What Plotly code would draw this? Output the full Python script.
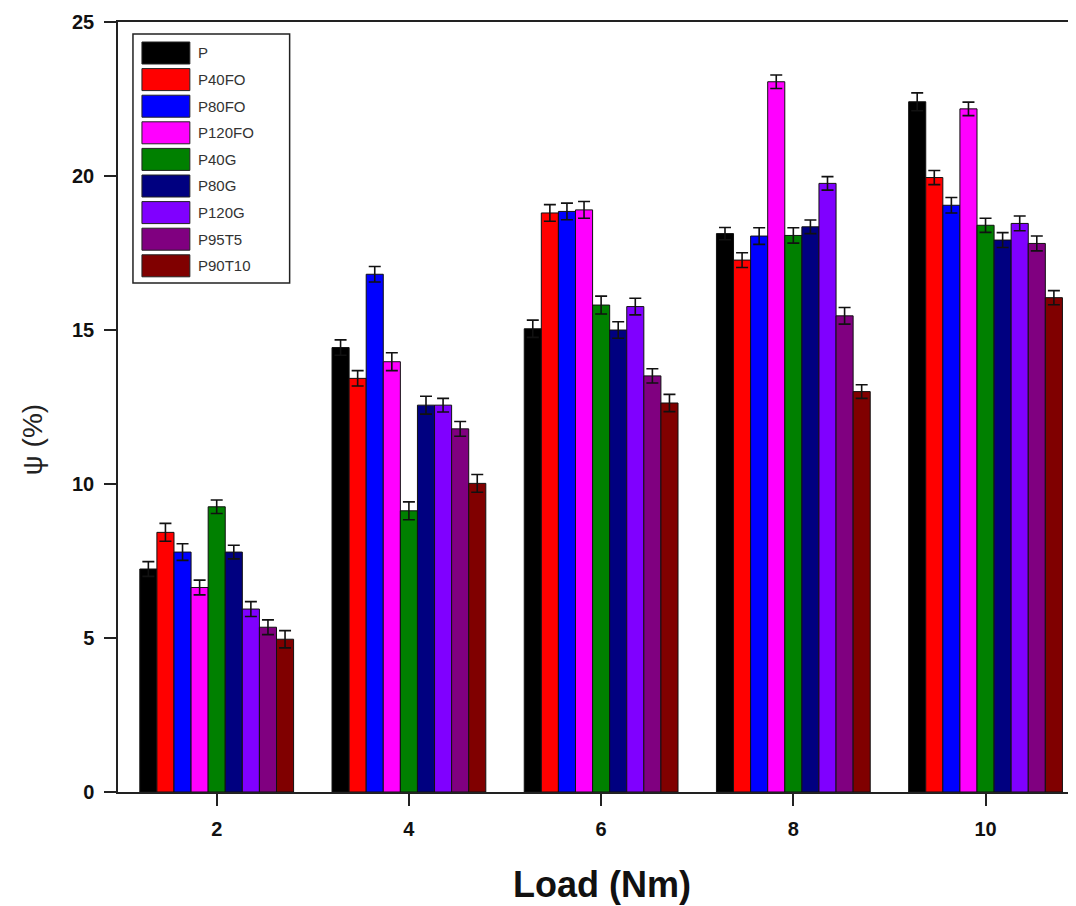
import plotly.graph_objects as go

loads = [2, 4, 6, 8, 10]
series_names = ["P", "P40FO", "P80FO", "P120FO", "P40G", "P80G", "P120G", "P95T5", "P90T10"]
colors = ["#000000", "#FF0000", "#0000FF", "#FF00FF", "#008000", "#000080", "#8000FF", "#800080", "#800000"]

P      = [7.24, 14.43, 15.04, 18.13, 22.41]
P40FO  = [8.43, 13.43, 18.80, 17.27, 19.95]
P80FO  = [7.79, 16.81, 18.85, 18.05, 19.05]
P120FO = [6.64, 13.97, 18.90, 23.06, 22.18]
P40G   = [9.26, 9.13, 15.81, 18.07, 18.40]
P80G   = [7.79, 12.56, 15.00, 18.35, 17.92]
P120G  = [5.94, 12.56, 15.76, 19.76, 18.46]
P95T5  = [5.35, 11.79, 13.51, 15.46, 17.81]
P90T10 = [4.96, 10.02, 12.63, 13.00, 16.05]

err_P      = [0.24, 0.25, 0.28, 0.20, 0.29]
err_P40FO  = [0.29, 0.25, 0.27, 0.24, 0.23]
err_P80FO  = [0.27, 0.25, 0.27, 0.27, 0.25]
err_P120FO = [0.24, 0.29, 0.27, 0.22, 0.22]
err_P40G   = [0.22, 0.29, 0.29, 0.25, 0.23]
err_P80G   = [0.22, 0.29, 0.27, 0.22, 0.24]
err_P120G  = [0.24, 0.22, 0.27, 0.22, 0.24]
err_P95T5  = [0.24, 0.24, 0.23, 0.27, 0.24]
err_P90T10 = [0.28, 0.29, 0.28, 0.22, 0.23]

values = [P, P40FO, P80FO, P120FO, P40G, P80G, P120G, P95T5, P90T10]
errors = [err_P, err_P40FO, err_P80FO, err_P120FO, err_P40G, err_P80G, err_P120G, err_P95T5, err_P90T10]

fig = go.Figure()
for name, col, v, e in zip(series_names, colors, values, errors):
    fig.add_trace(go.Bar(
        x=loads, y=v, name=name,
        marker=dict(color=col, line=dict(color="#111111", width=1)),
        error_y=dict(type="data", array=e, visible=True, color="#111111", thickness=1.6, width=6),
        showlegend=False,
    ))

# page offset of the figure (body margin)
OFF = 8
W, H = 1076 - OFF, 906 - OFF
# plot area in page pixels
L, R, T, B = 118, 1075, 22, 792

def px(x):
    return (x - L) / (R - L)

def py(y):
    return (B - y) / (B - T)

shapes = []
annotations = []
# legend box
shapes.append(dict(type="rect", xref="paper", yref="paper",
                   x0=px(133), x1=px(290), y0=py(34), y1=py(283),
                   line=dict(color="#222222", width=1.5), fillcolor="rgba(255,255,255,0)"))
pitch = 26.6
for i, (name, col) in enumerate(zip(series_names, colors)):
    top = 42 + i * pitch
    shapes.append(dict(type="rect", xref="paper", yref="paper",
                       x0=px(142), x1=px(190), y0=py(top), y1=py(top + 22),
                       line=dict(color="#222222", width=1), fillcolor=col))
    annotations.append(dict(xref="paper", yref="paper", x=px(196), y=py(top + 11),
                            text=name, showarrow=False, xanchor="left", yanchor="middle",
                            font=dict(family="Liberation Sans, Arial", size=15, color="#333333")))

# axis titles
annotations.append(dict(xref="paper", yref="paper", x=px(603), y=py(884),
                        text="<b>Load (Nm)</b>", showarrow=False, xanchor="center", yanchor="middle",
                        font=dict(family="Liberation Sans, Arial", size=36, color="#111111")))
annotations.append(dict(xref="paper", yref="paper", x=px(32), y=py(440),
                        text="ψ (%)", showarrow=False, xanchor="center", yanchor="middle",
                        textangle=-90,
                        font=dict(family="Liberation Sans, Arial", size=28, color="#222222")))

fig.update_layout(
    width=W, height=H,
    margin=dict(l=L - OFF, r=(1076 - R) - 0, t=T - OFF, b=906 - B, pad=0),
    plot_bgcolor="white", paper_bgcolor="white",
    barmode="group", bargap=0.2, bargroupgap=0,
    shapes=shapes, annotations=annotations,
    font=dict(family="Liberation Sans, Arial", color="#111111"),
)
fig.update_xaxes(
    range=[0.973, 10.91], tickvals=loads, ticktext=[str(v) for v in loads],
    ticks="outside", ticklen=12, tickwidth=1.5, tickcolor="#222222",
    showline=True, linecolor="#222222", linewidth=1.5, mirror=True,
    showgrid=False, zeroline=False, ticklabelstandoff=6,
    tickfont=dict(family="Liberation Sans, Arial", size=20, color="#111111", weight="bold"),
)
fig.update_yaxes(
    range=[0, 25], tickvals=[0, 5, 10, 15, 20, 25],
    ticks="outside", ticklen=12, tickwidth=1.5, tickcolor="#222222",
    showline=True, linecolor="#222222", linewidth=1.5, mirror=True,
    showgrid=False, zeroline=False, ticklabelstandoff=6,
    tickfont=dict(family="Liberation Sans, Arial", size=20, color="#111111", weight="bold"),
)

fig.write_html("out.html")
